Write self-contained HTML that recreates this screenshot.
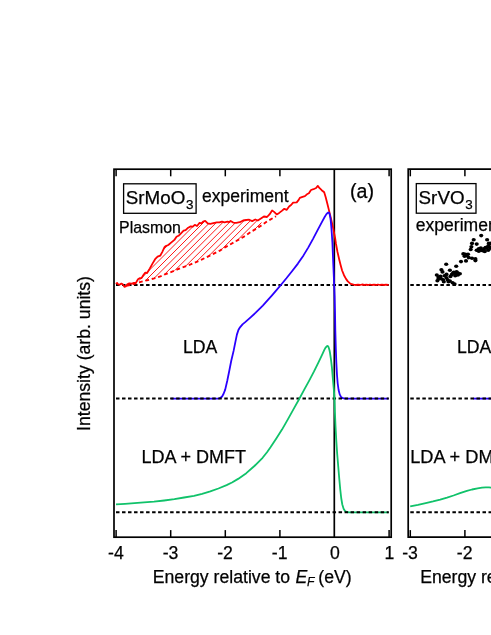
<!DOCTYPE html>
<html><head><meta charset="utf-8">
<style>
html,body{margin:0;padding:0;background:#fff;}
body{width:491px;height:635px;overflow:hidden;}
svg{display:block;}
text{font-family:"Liberation Sans",sans-serif;fill:#000;stroke:#000;stroke-width:0.25px;}
.tx{opacity:0.999;}
</style></head><body>
<svg width="491" height="635" viewBox="0 0 491 635">
<rect x="0" y="0" width="491" height="635" fill="#fff"/>
<defs><clipPath id="pl"><polygon points="138.0,279.3 140.0,278.1 141.5,278.1 143.6,274.7 145.1,272.7 147.1,273.0 149.7,268.6 152.5,263.6 155.1,259.2 157.6,256.7 160.2,255.7 162.2,252.1 164.3,247.5 165.8,246.0 168.3,245.0 171.4,242.4 174.4,239.9 176.5,236.8 178.5,235.8 180.5,233.8 183.6,230.7 185.6,230.2 188.2,227.7 190.7,226.4 192.8,226.7 194.8,224.8 197.0,226.0 199.6,222.9 201.6,223.4 203.1,221.6 205.2,220.9 207.7,223.4 210.3,223.9 213.3,223.2 216.9,222.4 219.4,222.4 222.0,221.6 224.5,222.4 227.6,221.6 229.1,222.2 230.6,220.9 233.2,222.6 236.2,222.9 239.8,222.2 243.1,220.5 246.1,220.0 249.2,219.7 252.2,221.1 255.3,219.5 257.8,220.5 260.9,218.5 261.9,225.1 256.3,228.7 251.2,231.7 246.1,235.3 241.0,238.4 233.5,242.6 225.0,247.4 219.9,250.6 212.6,254.3 201.6,259.6 190.6,264.4 178.3,269.0 175.1,270.5 164.9,274.4 160.4,276.3 154.2,278.3 146.9,280.3 140.8,281.9"/></clipPath></defs>

<!-- frames -->
<g stroke="#000" stroke-width="1.7" fill="none">
<rect x="114" y="169.2" width="277.2" height="368"/>
<line x1="334.3" y1="169.2" x2="334.3" y2="537.2"/>
<path d="M495 169.2H408.2V537.2H495"/>
</g>
<!-- ticks -->
<g stroke="#000" stroke-width="1.5" fill="none">
<line x1="116.1" y1="537.2" x2="116.1" y2="530.1"/><line x1="116.1" y1="169.2" x2="116.1" y2="176.3"/><line x1="170.7" y1="537.2" x2="170.7" y2="530.1"/><line x1="170.7" y1="169.2" x2="170.7" y2="176.3"/><line x1="225.3" y1="537.2" x2="225.3" y2="530.1"/><line x1="225.3" y1="169.2" x2="225.3" y2="176.3"/><line x1="279.9" y1="537.2" x2="279.9" y2="530.1"/><line x1="279.9" y1="169.2" x2="279.9" y2="176.3"/><line x1="389.1" y1="537.2" x2="389.1" y2="530.1"/><line x1="389.1" y1="169.2" x2="389.1" y2="176.3"/><line x1="410.3" y1="537.2" x2="410.3" y2="530.1"/><line x1="410.3" y1="169.2" x2="410.3" y2="176.3"/><line x1="464.9" y1="537.2" x2="464.9" y2="530.1"/><line x1="464.9" y1="169.2" x2="464.9" y2="176.3"/>
</g>

<!-- top row: baseline, hatch, red -->
<g stroke="#000" stroke-width="2.0" stroke-dasharray="3.5 2.515" fill="none">
<line x1="116" y1="284.9" x2="388.8" y2="284.9"/>
<line x1="410.3" y1="284.9" x2="495" y2="284.9"/>
</g>
<g clip-path="url(#pl)" stroke="#ff0000" stroke-width="0.9" fill="none">
<line x1="100.2" y1="300" x2="200.2" y2="200"/><line x1="106.6" y1="300" x2="206.6" y2="200"/><line x1="113.1" y1="300" x2="213.1" y2="200"/><line x1="119.5" y1="300" x2="219.5" y2="200"/><line x1="126.0" y1="300" x2="226.0" y2="200"/><line x1="132.4" y1="300" x2="232.4" y2="200"/><line x1="138.9" y1="300" x2="238.9" y2="200"/><line x1="145.3" y1="300" x2="245.3" y2="200"/><line x1="151.8" y1="300" x2="251.8" y2="200"/><line x1="158.2" y1="300" x2="258.2" y2="200"/><line x1="164.7" y1="300" x2="264.7" y2="200"/><line x1="171.1" y1="300" x2="271.1" y2="200"/><line x1="177.6" y1="300" x2="277.6" y2="200"/><line x1="184.0" y1="300" x2="284.0" y2="200"/><line x1="190.5" y1="300" x2="290.5" y2="200"/><line x1="196.9" y1="300" x2="296.9" y2="200"/>
</g>
<polyline points="126.3,285.9 131.0,285.0 134.0,283.9 140.8,281.9 146.9,280.3 154.2,278.3 160.4,276.3 164.9,274.4 175.1,270.5 178.3,269.0 190.6,264.4 201.6,259.6 212.6,254.3 219.9,250.6 225.0,247.4 233.5,242.6 241.0,238.4 246.1,235.3 251.2,231.7 256.3,228.7 261.9,225.1 267.0,221.5 273.1,218.0 276.0,216.2" fill="none" stroke="#ff0000" stroke-width="1.9" stroke-dasharray="3.8 2.8"/>
<polyline points="115.9,283.9 117.1,282.9 118.3,284.6 119.9,284.6 121.4,283.6 123.0,284.6 124.4,286.9 125.7,286.4 127.3,284.4 129.3,283.4 131.9,283.6 133.9,282.9 135.9,282.9 138.0,279.3 140.0,278.1 141.5,278.1 143.6,274.7 145.1,272.7 147.1,273.0 149.7,268.6 152.5,263.6 155.1,259.2 157.6,256.7 160.2,255.7 162.2,252.1 164.3,247.5 165.8,246.0 168.3,245.0 171.4,242.4 174.4,239.9 176.5,236.8 178.5,235.8 180.5,233.8 183.6,230.7 185.6,230.2 188.2,227.7 190.7,226.4 192.8,226.7 194.8,224.8 197.0,226.0 199.6,222.9 201.6,223.4 203.1,221.6 205.2,220.9 207.7,223.4 210.3,223.9 213.3,223.2 216.9,222.4 219.4,222.4 222.0,221.6 224.5,222.4 227.6,221.6 229.1,222.2 230.6,220.9 233.2,222.6 236.2,222.9 239.8,222.2 243.1,220.5 246.1,220.0 249.2,219.7 252.2,221.1 255.3,219.5 257.8,220.5 260.9,218.5 263.9,216.5 267.0,217.0 269.5,214.4 272.1,210.4 274.1,211.9 276.7,214.4 279.2,212.9 281.8,210.9 284.3,208.8 286.8,209.8 289.1,206.5 291.1,205.0 293.1,202.6 296.7,202.4 298.7,199.9 299.8,197.9 301.8,197.1 304.9,196.1 306.9,194.3 308.9,193.3 311.0,190.0 313.5,189.2 316.1,188.0 317.8,185.9 319.6,188.2 321.7,190.2 324.2,192.3 325.7,197.3 327.3,203.5 329.3,211.6 330.8,217.7 332.9,226.9 334.2,233.5 335.1,238.0 336.0,244.0 337.5,252.0 339.1,259.0 340.6,265.0 342.1,270.5 344.0,275.2 346.0,278.9 347.8,281.4 349.8,283.2 351.6,284.2 353.6,284.7 356.0,285.0 358.0,284.6 360.0,285.0 362.0,284.5 364.5,285.0 366.0,284.6 368.0,285.0 370.0,284.5 372.0,285.0 374.0,284.7 376.5,285.0 378.0,284.5 380.0,285.0 382.0,284.7 384.0,285.0 386.0,284.6 388.7,284.8" fill="none" stroke="#ff0000" stroke-width="1.8" stroke-linejoin="round"/>

<!-- middle row: blue then baseline -->
<polyline points="171.2,398.6 217.5,398.6 219.1,398.4 220.6,397.8 222.1,396.5 223.6,393.8 225.2,389.6 227.2,381.0 229.2,371.3 231.2,361.0 233.6,350.9 235.4,341.8 236.9,334.6 238.4,330.0 240.0,327.3 242.5,324.4 245.5,321.9 250.6,317.3 255.7,312.7 260.8,307.6 262.8,305.6 267.5,300.4 272.0,295.3 276.9,289.6 282.1,283.5 286.4,278.3 292.0,271.2 297.9,263.6 303.5,255.4 308.2,247.6 312.9,239.1 317.6,230.1 322.4,221.1 324.5,217.3 326.1,214.6 327.2,213.2 327.9,212.7 328.5,212.5 329.0,212.7 329.4,213.5 329.8,215.0 330.3,217.6 330.7,220.4 331.3,226.7 331.8,233.4 332.4,242.8 332.8,252.3 333.3,264.5 333.8,276.0 334.2,286.0 334.6,296.0 335.0,312.0 335.3,330.0 335.8,348.0 336.3,362.0 337.0,375.0 337.7,383.5 338.6,390.0 339.7,394.4 341.0,396.9 342.8,398.2 345.0,398.6 388.6,398.6" fill="none" stroke="#2a00ff" stroke-width="1.8" stroke-linejoin="round"/>
<line x1="473.2" y1="398.6" x2="495" y2="398.6" stroke="#2a00ff" stroke-width="1.8"/>
<g stroke="#000" stroke-width="2.0" stroke-dasharray="3.5 2.515" fill="none">
<line x1="116" y1="398.6" x2="388.8" y2="398.6"/>
<line x1="410.3" y1="398.6" x2="495" y2="398.6"/>
</g>

<!-- bottom row: green then baseline -->
<polyline points="116.0,504.4 125.0,503.8 134.4,503.2 144.0,502.4 154.0,501.6 164.2,500.5 174.4,499.2 184.1,497.5 194.0,495.8 202.1,493.8 210.3,491.4 218.4,488.5 226.6,485.1 232.0,482.5 238.1,478.9 246.3,473.2 254.4,466.0 262.6,457.8 267.0,452.2 270.5,447.2 276.3,438.5 282.0,429.6 287.7,419.6 293.4,409.4 299.2,399.0 304.5,389.1 309.2,380.6 313.9,371.7 318.6,362.2 322.4,354.2 324.2,350.2 325.4,347.9 326.7,346.4 327.4,346.0 327.9,346.1 328.4,346.8 328.9,348.2 329.5,350.3 330.0,352.8 330.9,358.9 331.9,367.4 332.8,377.8 333.8,389.1 334.5,398.6 334.9,412.0 335.5,426.0 336.3,440.8 337.2,454.0 338.2,466.0 339.2,478.0 340.2,489.0 341.2,498.0 342.3,504.5 343.6,508.8 345.0,511.0 346.8,512.0 349.0,512.3 388.6,512.3" fill="none" stroke="#10c26a" stroke-width="1.8" stroke-linejoin="round"/>
<polyline points="410.2,506.3 418.0,504.8 426.8,502.8 433.0,501.4 440.2,499.6 447.0,497.6 453.5,495.5 460.0,493.2 466.9,490.9 472.0,489.5 477.6,488.3 482.0,487.6 485.7,487.3 489.0,487.4 492.0,487.8" fill="none" stroke="#10c26a" stroke-width="1.8" stroke-linejoin="round"/>
<g stroke="#000" stroke-width="2.0" stroke-dasharray="3.5 2.515" fill="none">
<line x1="116" y1="512.3" x2="388.8" y2="512.3"/>
<line x1="410.3" y1="512.3" x2="495" y2="512.3"/>
</g>

<!-- dots -->
<g fill="#000">
<ellipse cx="436.8" cy="275.0" rx="2.1" ry="1.8"/><ellipse cx="438.4" cy="277.0" rx="2.1" ry="1.8"/><ellipse cx="437.4" cy="280.8" rx="2.1" ry="1.8"/><ellipse cx="441.1" cy="278.7" rx="2.1" ry="1.8"/><ellipse cx="441.4" cy="269.7" rx="2.1" ry="1.8"/><ellipse cx="442.5" cy="271.9" rx="2.1" ry="1.8"/><ellipse cx="444.5" cy="275.7" rx="2.1" ry="1.8"/><ellipse cx="446.5" cy="274.4" rx="2.1" ry="1.8"/><ellipse cx="443.8" cy="281.7" rx="2.1" ry="1.8"/><ellipse cx="446.2" cy="264.3" rx="2.1" ry="1.8"/><ellipse cx="447.6" cy="279.7" rx="2.1" ry="1.8"/><ellipse cx="449.9" cy="270.3" rx="2.1" ry="1.8"/><ellipse cx="450.5" cy="276.4" rx="2.1" ry="1.8"/><ellipse cx="449.9" cy="281.1" rx="2.1" ry="1.8"/><ellipse cx="452.6" cy="282.7" rx="2.1" ry="1.8"/><ellipse cx="454.6" cy="284.0" rx="2.1" ry="1.8"/><ellipse cx="453.2" cy="273.0" rx="2.1" ry="1.8"/><ellipse cx="456.2" cy="266.3" rx="2.1" ry="1.8"/><ellipse cx="456.6" cy="271.7" rx="2.1" ry="1.8"/><ellipse cx="457.9" cy="275.0" rx="2.1" ry="1.8"/><ellipse cx="459.9" cy="273.7" rx="2.1" ry="1.8"/><ellipse cx="455.2" cy="275.7" rx="2.1" ry="1.8"/><ellipse cx="461.0" cy="261.6" rx="2.1" ry="1.8"/><ellipse cx="463.3" cy="253.9" rx="2.1" ry="1.8"/><ellipse cx="464.6" cy="256.2" rx="2.1" ry="1.8"/><ellipse cx="466.0" cy="260.9" rx="2.1" ry="1.8"/><ellipse cx="468.0" cy="254.2" rx="2.1" ry="1.8"/><ellipse cx="468.7" cy="257.6" rx="2.1" ry="1.8"/><ellipse cx="472.0" cy="258.2" rx="2.1" ry="1.8"/><ellipse cx="475.4" cy="258.9" rx="2.1" ry="1.8"/><ellipse cx="475.4" cy="260.6" rx="2.1" ry="1.8"/><ellipse cx="470.7" cy="249.5" rx="2.1" ry="1.8"/><ellipse cx="471.4" cy="246.8" rx="2.1" ry="1.8"/><ellipse cx="472.0" cy="243.4" rx="2.1" ry="1.8"/><ellipse cx="473.7" cy="239.7" rx="2.1" ry="1.8"/><ellipse cx="476.7" cy="244.1" rx="2.1" ry="1.8"/><ellipse cx="476.7" cy="250.2" rx="2.1" ry="1.8"/><ellipse cx="478.8" cy="251.2" rx="2.1" ry="1.8"/><ellipse cx="480.8" cy="248.1" rx="2.1" ry="1.8"/><ellipse cx="481.2" cy="235.6" rx="2.1" ry="1.8"/><ellipse cx="482.8" cy="250.8" rx="2.1" ry="1.8"/><ellipse cx="484.8" cy="251.5" rx="2.1" ry="1.8"/><ellipse cx="485.5" cy="247.5" rx="2.1" ry="1.8"/><ellipse cx="487.1" cy="239.7" rx="2.1" ry="1.8"/><ellipse cx="488.2" cy="246.1" rx="2.1" ry="1.8"/><ellipse cx="488.2" cy="250.2" rx="2.1" ry="1.8"/><ellipse cx="490.2" cy="248.1" rx="2.1" ry="1.8"/><ellipse cx="490.9" cy="243.4" rx="2.1" ry="1.8"/><ellipse cx="484.1" cy="248.8" rx="2.1" ry="1.8"/><ellipse cx="486.8" cy="248.1" rx="2.1" ry="1.8"/><ellipse cx="481.5" cy="250.2" rx="2.1" ry="1.8"/><ellipse cx="478.8" cy="248.8" rx="2.1" ry="1.8"/><ellipse cx="488.8" cy="243.4" rx="2.1" ry="1.8"/><ellipse cx="489.5" cy="246.8" rx="2.1" ry="1.8"/><ellipse cx="453.9" cy="272.3" rx="2.1" ry="1.8"/><ellipse cx="457.9" cy="273.0" rx="2.1" ry="1.8"/><ellipse cx="451.9" cy="274.4" rx="2.1" ry="1.8"/><ellipse cx="455.9" cy="273.7" rx="2.1" ry="1.8"/><ellipse cx="465.3" cy="254.2" rx="2.1" ry="1.8"/><ellipse cx="466.7" cy="255.5" rx="2.1" ry="1.8"/><ellipse cx="438.4" cy="279.1" rx="2.1" ry="1.8"/><ellipse cx="440.5" cy="276.4" rx="2.1" ry="1.8"/><ellipse cx="443.1" cy="279.7" rx="2.1" ry="1.8"/><ellipse cx="446.5" cy="277.7" rx="2.1" ry="1.8"/><ellipse cx="448.5" cy="281.7" rx="2.1" ry="1.8"/>
</g>

<g class="tx">
<!-- tick labels -->
<g font-size="17.65" text-anchor="middle">
<text x="115.9" y="559.0">-4</text>
<text x="170.5" y="559.0">-3</text>
<text x="225.1" y="559.0">-2</text>
<text x="279.7" y="559.0">-1</text>
<text x="334.8" y="559.0">0</text>
<text x="389.5" y="559.0">1</text>
<text x="410.1" y="559.0">-3</text>
<text x="464.7" y="559.0">-2</text>
</g>
<text x="152.8" y="582.8" font-size="17.65">Energy relative to <tspan font-style="italic" dx="0.6">E</tspan><tspan font-style="italic" font-size="12.2" dx="-0.4" dy="3.6">F</tspan><tspan dy="-3.6" dx="-1.0"> (eV)</tspan></text>
<text x="420.2" y="582.8" font-size="17.65">Energy relative</text>
<text transform="translate(89.8,353.5) rotate(-90)" text-anchor="middle" font-size="17.65">Intensity (arb. units)</text>

<!-- labels -->
<rect x="123.6" y="183.8" width="72.5" height="29.5" fill="#fff" stroke="#000" stroke-width="1.3"/>
<text x="125.8" y="203.6" font-size="18.8">SrMoO<tspan font-size="13.4" dx="0.8" dy="5.2">3</tspan></text>
<text x="202.0" y="201.9" font-size="17.55">experiment</text>
<text x="119.1" y="233.4" font-size="15.9">Plasmon</text>
<text x="350.1" y="197.6" font-size="19.6">(a)</text>
<text x="183" y="353" font-size="17.65">LDA</text>
<text x="141.5" y="462.9" font-size="18">LDA + DMFT</text>

<rect x="416.3" y="183.6" width="59.7" height="29.6" fill="#fff" stroke="#000" stroke-width="1.3"/>
<text x="418.6" y="203.6" font-size="18.8">SrVO<tspan font-size="13.4" dx="0.8" dy="5.2">3</tspan></text>
<text x="415.8" y="230.5" font-size="17.55">experiment</text>
<text x="457" y="353" font-size="17.65">LDA</text>
<text x="410.2" y="462.9" font-size="18.2">LDA + DMFT</text>
</g>
</svg>
</body></html>
